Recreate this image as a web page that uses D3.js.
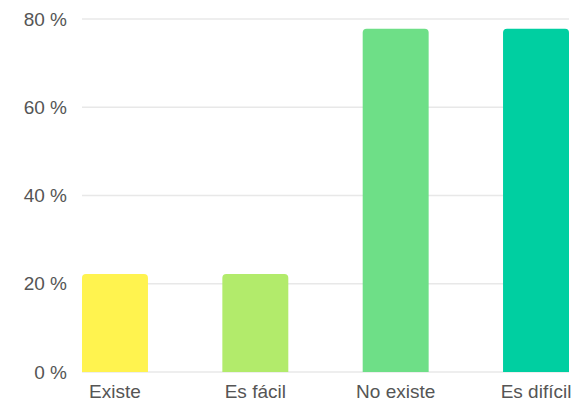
<!DOCTYPE html>
<html><head><meta charset="utf-8">
<script src="https://cdn.jsdelivr.net/npm/d3@7"></script>
<style>body{margin:0;background:#fff}svg{display:block}text{font-family:"Liberation Sans",Arial,sans-serif}</style>
</head><body>
<script>
const categories = ["Existe", "Es fácil", "No existe", "Es difícil"];
const values = [22.2, 22.2, 77.8, 77.8];
const colors = ["#fff34f", "#b2eb6b", "#6edf87", "#00cfa1"];
const yTicks = [0, 20, 40, 60, 80];

const W = 585, H = 403;
const svg = d3.select("body").append("svg").attr("width", W).attr("height", H);
const x = d3.scaleBand().domain(categories).range([82, 569]).paddingInner(0.53).paddingOuter(0);
const y = d3.scaleLinear().domain([0, 80]).range([372, 19]);

// gridlines
svg.append("g").selectAll("line").data(yTicks).join("line")
  .attr("x1", 82).attr("x2", 569)
  .attr("y1", d => y(d)).attr("y2", d => y(d))
  .attr("stroke", "#e8e8e8").attr("stroke-width", 1.5);

// y labels
svg.append("g").selectAll("text").data(yTicks).join("text")
  .attr("x", 67).attr("y", d => y(d)).attr("dy", "0.35em")
  .attr("text-anchor", "end").attr("font-size", 19).attr("fill", "#555")
  .text(d => d + " %");

// bars with rounded top corners
const r = 4;
svg.append("g").selectAll("path").data(values).join("path")
  .attr("fill", (d, i) => colors[i])
  .attr("d", (d, i) => {
    const x0 = x(categories[i]), w = x.bandwidth(), y0 = y(d), y1 = y(0);
    return `M${x0},${y1}V${y0 + r}Q${x0},${y0} ${x0 + r},${y0}H${x0 + w - r}Q${x0 + w},${y0} ${x0 + w},${y0 + r}V${y1}Z`;
  });

// x labels
svg.append("g").selectAll("text").data(categories).join("text")
  .attr("x", d => x(d) + x.bandwidth() / 2).attr("y", 398)
  .attr("text-anchor", "middle").attr("font-size", 19).attr("fill", "#555")
  .text(d => d);
</script>
</body></html>
